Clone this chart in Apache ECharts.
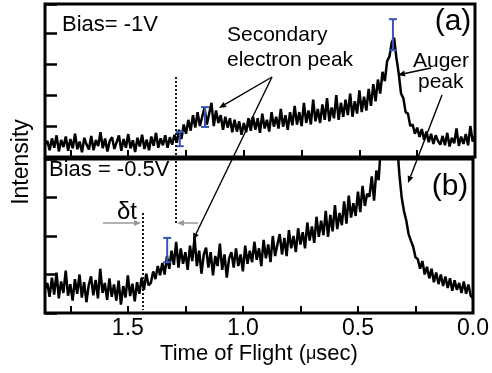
<!DOCTYPE html>
<html>
<head>
<meta charset="utf-8">
<script src="https://cdn.jsdelivr.net/npm/echarts@6/dist/echarts.min.js"></script>
<style>
html, body { margin: 0; padding: 0; background: #fff; }
#main { width: 492px; height: 373px; }
</style>
</head>
<body>
<div id="main"></div>
<script>
// time of flight (usec): one sample every 0.01 from 1.86 down to 0.00
const tStart = 1.86;
const tStep = 0.01;

// (a) Bias = -1V, intensity
const biasA = [0.40,
  0.52, 0.22, 0.60, 0.30, 0.70, 0.18, 0.55, 0.32, 0.66, 0.20,
  0.58, 0.28, 0.75, 0.25, 0.50, 0.15, 0.62, 0.40, 0.24, 0.68,
  0.22, 0.55, 0.35, 0.80, 0.28, 0.60, 0.18, 0.52, 0.64, 0.26,
  0.48, 0.70, 0.20, 0.58, 0.30, 0.74, 0.28, 0.54, 0.16, 0.62,
  0.34, 0.72, 0.26, 0.56, 0.22, 0.66, 0.36, 0.78, 0.30, 0.60,
  0.38, 0.70, 0.30, 0.64, 0.40, 0.72, 0.46, 0.88, 0.58, 1.05,
  0.75, 1.20, 0.85, 1.35, 0.95, 1.45, 1.00, 1.30, 1.60, 1.05,
  1.40, 1.75, 1.00, 1.50, 1.10, 1.35, 0.88, 1.30, 0.95, 1.25,
  0.80, 1.20, 0.82, 1.15, 0.72, 1.10, 0.80, 1.25, 0.85, 1.30,
  0.88, 1.25, 0.78, 1.40, 0.92, 1.20, 0.82, 1.45, 0.98, 1.30,
  0.92, 1.55, 0.98, 1.35, 0.88, 1.45, 1.02, 1.65, 1.05, 1.45,
  1.00, 1.75, 1.10, 1.50, 1.05, 1.85, 1.15, 1.55, 1.10, 1.70,
  1.20, 1.90, 1.15, 1.60, 1.25, 2.00, 1.20, 1.75, 1.30, 1.85,
  1.35, 2.05, 1.30, 1.80, 1.40, 2.15, 1.45, 1.95, 1.50, 2.20,
  1.65, 2.35, 1.80, 2.50, 2.05, 2.75, 2.45, 3.10, 3.25, 3.70,
  3.85, 3.20, 2.70, 2.05, 1.90, 1.45, 1.40, 1.00, 1.05, 0.75,
  0.95, 0.65, 0.90, 0.55, 0.82, 0.48, 0.75, 0.42, 0.70, 0.52,
  0.40, 0.68, 0.38, 0.78, 0.34, 0.62, 0.44, 0.92, 0.36, 0.66,
  0.42, 0.74, 0.38, 1.00, 0.50, 0.68];

// (b) Bias = -0.5V
const biasB = [0.62,
  0.78, 0.42, 0.92, 0.48, 1.05, 0.38, 0.82, 0.52, 1.10, 0.45,
  0.75, 0.32, 0.88, 0.50, 1.00, 0.40, 0.80, 0.28, 0.72, 0.95,
  0.46, 0.86, 0.38, 1.15, 0.52, 0.78, 0.34, 0.90, 0.42, 0.74,
  0.32, 0.84, 0.22, 0.70, 0.40, 0.98, 0.44, 0.76, 0.30, 0.80,
  0.50, 0.92, 0.60, 1.02, 0.72, 0.78, 1.08, 0.88, 1.22, 0.98,
  1.30, 1.00, 1.48, 1.15, 1.62, 1.25, 1.85, 1.18, 1.68, 1.28,
  1.58, 1.12, 1.75, 1.35, 1.95, 1.22, 1.62, 1.02, 1.52, 1.70,
  1.18, 1.58, 0.98, 1.48, 1.22, 1.80, 1.12, 1.52, 0.92, 1.42,
  1.58, 1.18, 1.68, 1.22, 1.52, 1.08, 1.75, 1.28, 1.62, 1.32,
  1.85, 1.38, 1.68, 1.22, 1.90, 1.42, 1.78, 1.32, 2.00, 1.48,
  1.78, 2.05, 1.52, 1.95, 1.48, 2.15, 1.68, 2.00, 1.58, 2.20,
  1.78, 2.10, 1.68, 2.35, 1.88, 2.25, 1.82, 2.50, 1.98, 2.40,
  2.02, 2.65, 1.98, 2.55, 2.12, 2.80, 2.18, 2.60, 2.28, 2.90,
  2.32, 3.05, 2.48, 2.85, 2.52, 3.15, 2.62, 3.30, 2.78, 3.10,
  3.02, 3.55, 2.92, 3.70, 3.45, 4.40, 4.80, 5.20, 5.00, 5.40,
  5.30, 5.00, 4.40, 3.60, 3.00, 2.65, 2.40, 2.05, 1.88, 1.72,
  1.45, 1.40, 1.15, 1.35, 1.00, 1.20, 0.90, 1.15, 0.80, 1.05,
  0.75, 1.00, 0.70, 0.95, 0.65, 0.90, 0.58, 0.85, 0.60, 0.78,
  0.52, 0.82, 0.50, 0.74, 0.45, 0.38];

// error bars: [time, low, high]
const errA = [[1.277, 0.35, 0.81], [1.168, 0.97, 1.61], [0.355, 3.45, 4.45]];
const errB = [[1.329, 1.32, 1.95]];

const FONT = 'Liberation Sans, Arial, sans-serif';

function toPairs(vals) {
  return vals.map((v, i) => [+(tStart - i * tStep).toFixed(2), v]);
}

function renderErr(params, api) {
  const lo = api.coord([api.value(0), api.value(1)]);
  const hi = api.coord([api.value(0), api.value(2)]);
  const st = { stroke: '#3556b8', lineWidth: 2 };
  return {
    type: 'group',
    children: [
      { type: 'line', shape: { x1: lo[0], y1: lo[1], x2: hi[0], y2: hi[1] }, style: st },
      { type: 'line', shape: { x1: lo[0] - 4, y1: lo[1], x2: lo[0] + 4, y2: lo[1] }, style: st },
      { type: 'line', shape: { x1: hi[0] - 4, y1: hi[1], x2: hi[0] + 4, y2: hi[1] }, style: st }
    ]
  };
}

// line with a filled head at (x2, y2)
function arrow(x1, y1, x2, y2, color, w) {
  const a = Math.atan2(y2 - y1, x2 - x1), L = 7, W = 3;
  const bx = x2 - L * Math.cos(a), by = y2 - L * Math.sin(a);
  return [
    { type: 'line', z: 10, shape: { x1: x1, y1: y1, x2: bx, y2: by }, style: { stroke: color, lineWidth: w } },
    { type: 'polygon', z: 10, shape: { points: [[x2, y2], [bx + W * Math.sin(a), by - W * Math.cos(a)], [bx - W * Math.sin(a), by + W * Math.cos(a)]] }, style: { fill: color } }
  ];
}

function txt(x, y, text, size, align) {
  return { type: 'text', z: 10, x: x, y: y, style: { text: text, fontSize: size, fontFamily: FONT, fill: '#000', align: align || 'left', verticalAlign: 'middle' } };
}

// ticks every 0.25, labels only on the half units
function xAxis(gridIndex, labels) {
  return {
    type: 'value', gridIndex: gridIndex, inverse: true, min: 0, max: 1.86, interval: 0.25,
    axisLine: { show: false, onZero: false },
    axisTick: { show: true, inside: true, length: 7, lineStyle: { color: '#000', width: 2 } },
    axisLabel: labels ? {
      show: true, showMaxLabel: false, margin: 4, color: '#000', fontSize: 23, fontFamily: FONT,
      formatter: (v) => (Math.abs(v * 2 - Math.round(v * 2)) < 1e-6 ? v.toFixed(1) : '')
    } : { show: false },
    splitLine: { show: false }
  };
}

function yAxis(gridIndex, max) {
  return {
    type: 'value', gridIndex: gridIndex, min: 0, max: max, interval: 1, position: 'left',
    axisLine: { show: false, onZero: false },
    axisTick: { show: true, inside: true, length: 12, lineStyle: { color: '#000', width: 2.5 } },
    axisLabel: { show: false },
    splitLine: { show: false }
  };
}

const xB = xAxis(1, true);
xB.name = '{n|Time of Flight (}{u|μ}{n|sec)}';
xB.nameLocation = 'middle';
xB.nameGap = 30;
xB.nameTextStyle = {
  rich: {
    n: { fontSize: 22, fontFamily: FONT, color: '#000' },
    u: { fontSize: 18, fontFamily: FONT, color: '#000' }
  }
};

const myChart = echarts.init(document.getElementById('main'));

const option = {
  animation: false,
  backgroundColor: '#fff',
  grid: [
    { left: 45, top: 4, width: 430, height: 153, show: true, borderColor: '#000', borderWidth: 3 },
    { left: 45, top: 159, width: 430, height: 154, show: true, borderColor: '#000', borderWidth: 3 }
  ],
  xAxis: [xAxis(0, false), xB],
  yAxis: [yAxis(0, 4.94), yAxis(1, 4)],
  series: [
    {
      type: 'line', xAxisIndex: 0, yAxisIndex: 0, data: toPairs(biasA),
      showSymbol: false, symbol: 'none', lineStyle: { color: '#000', width: 2.5 }
    },
    {
      type: 'line', xAxisIndex: 1, yAxisIndex: 1, data: toPairs(biasB),
      showSymbol: false, symbol: 'none', lineStyle: { color: '#000', width: 2.5 }
    },
    { type: 'custom', xAxisIndex: 0, yAxisIndex: 0, z: 5, renderItem: renderErr, data: errA },
    { type: 'custom', xAxisIndex: 1, yAxisIndex: 1, z: 5, renderItem: renderErr, data: errB }
  ],
  graphic: [
    // axis title on the left, shared by both panels
    { type: 'text', z: 10, x: 22, y: 162, rotation: Math.PI / 2,
      style: { text: 'Intensity', fontSize: 23, fontFamily: FONT, fill: '#000', align: 'center', verticalAlign: 'middle' } },
    txt(62, 25, 'Bias= -1V', 22),
    txt(49, 170, 'Bias = -0.5V', 22),
    txt(453, 22, '(a)', 30, 'center'),
    txt(450, 187, '(b)', 30, 'center'),
    txt(227, 35, 'Secondary', 21),
    txt(227, 60, 'electron peak', 21),
    txt(413, 61, 'Auger', 21),
    txt(418, 82, 'peak', 21),
    txt(127, 212, 'δt', 24, 'center'),
    // onset markers
    { type: 'line', z: 10, shape: { x1: 176, y1: 77, x2: 176, y2: 223 }, style: { stroke: '#000', lineWidth: 1.8, lineDash: [2, 2] } },
    { type: 'line', z: 10, shape: { x1: 143, y1: 213, x2: 143, y2: 310 }, style: { stroke: '#000', lineWidth: 1.8, lineDash: [2, 2] } }
  ]
    .concat(arrow(272, 77, 219, 108, '#000', 1.4))
    .concat(arrow(272, 77, 193, 240, '#000', 1.4))
    .concat(arrow(431, 68, 398, 75, '#000', 1.4))
    .concat(arrow(442, 95, 408, 183, '#000', 1.4))
    .concat(arrow(198, 223, 177, 223, '#999', 1.5))
    .concat(arrow(103, 223, 141, 223, '#999', 1.5))
};

try {
  myChart.setOption(option);
} catch (e) {
  document.body.insertAdjacentHTML('beforeend', '<pre style="font-size:10px">' + e.stack + '</pre>');
}
</script>
</body>
</html>
